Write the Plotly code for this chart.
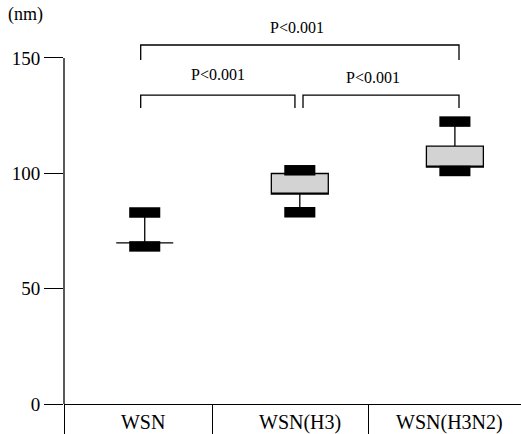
import plotly.graph_objects as go

# ---- data ----
categories = ["WSN", "WSN(H3)", "WSN(H3N2)"]
q1_vals = [69.8, 91.0, 102.7]
median_vals = [69.8, 91.0, 102.7]
q3_vals = [69.8, 99.9, 111.8]
lower_vals = [68.3, 83.1, 101.0]
upper_vals = [83.0, 101.3, 122.4]
y_ticks = [0, 50, 100, 150]
p_labels = ["P<0.001", "P<0.001", "P<0.001"]

# ---- layout positions (index based, slightly shifted like the original) ----
box_pos = [i + 0.03 + 0.018 * i for i in range(len(categories))]
label_pos = [0.02, 1.05, 2.03]
boundaries = [-0.5, 0.478, 1.502]
cap_half = 0.102
box_width = 0.374

font_family = "Liberation Serif, Times New Roman, serif"

fig = go.Figure()

fig.add_trace(go.Box(
    x=box_pos, q1=q1_vals, median=median_vals, q3=q3_vals,
    lowerfence=lower_vals, upperfence=upper_vals,
    width=box_width, fillcolor="#d3d3d3",
    line=dict(color="black", width=1.3), whiskerwidth=0,
    boxpoints=False, hoverinfo="skip", showlegend=False,
))

# thick black caps at whisker ends
cx, cy = [], []
for p, lo, hi in zip(box_pos, lower_vals, upper_vals):
    for v in (hi, lo):
        cx += [p - cap_half, p + cap_half, None]
        cy += [v, v, None]
fig.add_trace(go.Scatter(
    x=cx, y=cy, mode="lines", line=dict(color="black", width=10.5),
    hoverinfo="skip", showlegend=False,
))

# significance brackets
brackets = [
    (0.0035, 2.093, 149.1, 155.6, 1.03, 163.0),
    (0.0035, 1.016, 128.3, 133.9, 0.511, 142.6),
    (1.069, 2.093, 128.3, 133.9, 1.528, 141.7),
]
for (x0, x1, yb, yt, tx, ty), lab in zip(brackets, p_labels):
    fig.add_shape(type="path",
                  path=f"M {x0},{yb} L {x0},{yt} L {x1},{yt} L {x1},{yb}",
                  xref="x", yref="y", line=dict(color="black", width=1.3))
    fig.add_annotation(x=tx, y=ty, xref="x", yref="y", text=lab, showarrow=False,
                       font=dict(family=font_family, size=16, color="black"))

# y axis line (only up to 150)
fig.add_shape(type="line", xref="paper", yref="y", x0=0, x1=0, y0=0, y1=150,
              line=dict(color="black", width=1.3))

# "(nm)" unit label at top-left
fig.add_annotation(x=-0.042, y=0.963, xref="paper", yref="paper", xanchor="right",
                   yanchor="middle", text="(nm)", showarrow=False,
                   font=dict(family=font_family, size=18, color="black"))

fig.update_layout(
    width=521, height=434,
    margin=dict(l=64, r=0, t=0, b=30, autoexpand=False),
    paper_bgcolor="white", plot_bgcolor="white",
    font=dict(family=font_family, color="black", size=19),
    showlegend=False,
    xaxis=dict(
        range=[-0.5, 2.5], showgrid=False, zeroline=False, automargin=False,
        showline=True, linecolor="black", linewidth=1.3,
        tickmode="array", tickvals=label_pos, ticktext=categories,
        ticks="", tickfont=dict(size=20),
        minor=dict(tickmode="array", tickvals=boundaries, ticks="outside",
                   ticklen=29, tickcolor="black", tickwidth=1.3, showgrid=False),
    ),
    yaxis=dict(
        range=[0, 175.1], showgrid=False, zeroline=False, showline=False,
        automargin=False,
        tickmode="array", tickvals=y_ticks, ticks="outside", ticklen=19,
        tickcolor="black", tickwidth=1.3, tickfont=dict(size=19),
    ),
)

fig.write_html("out.html", config={"displayModeBar": False},
               post_script="document.body.style.margin='0';document.body.style.overflow='hidden';")
